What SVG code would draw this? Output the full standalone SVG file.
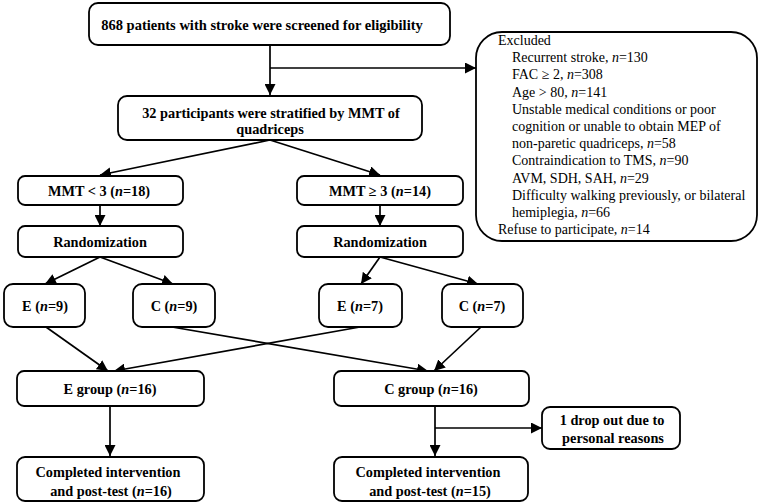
<svg xmlns="http://www.w3.org/2000/svg" width="763" height="504" viewBox="0 0 763 504">
<style>
.box{fill:#fff;stroke:#000;stroke-width:1.8}
.ln{fill:none;stroke:#000;stroke-width:1.7}
.arr{marker-end:url(#ah)}
.b{font-family:"Liberation Serif","Times New Roman",serif;font-weight:bold;font-size:14.3px;fill:#000;text-anchor:middle}
.r{font-family:"Liberation Serif","Times New Roman",serif;font-size:14px;fill:#000}
.i{font-style:italic}
</style>
<defs>
<marker id="ah" markerUnits="userSpaceOnUse" markerWidth="11" markerHeight="11" refX="11" refY="5.5" orient="auto" viewBox="0 0 11 11">
<path d="M0,0 L11,5.5 L0,11 Z" fill="#000"/>
</marker>
</defs>
<rect width="763" height="504" fill="#fff"/>
<g id="connectors">
<path class="ln arr" d="M270,45 V95"/>
<path class="ln arr" d="M270,68 H476"/>
<path class="ln arr" d="M270,140 L100,175"/>
<path class="ln arr" d="M270,140 L380,175"/>
<path class="ln arr" d="M100,205 V226"/>
<path class="ln arr" d="M380,205 V226"/>
<path class="ln arr" d="M100,257 L45,284"/>
<path class="ln arr" d="M100,257 L173,284"/>
<path class="ln arr" d="M380,257 L361,284"/>
<path class="ln arr" d="M380,257 L478,284"/>
<path class="ln arr" d="M46,327 L108,371"/>
<path class="ln arr" d="M172,327 L428,371"/>
<path class="ln arr" d="M360,327 L114,371"/>
<path class="ln arr" d="M481,327 L434,371"/>
<path class="ln arr" d="M110,406 V456"/>
<path class="ln arr" d="M435,406 V456"/>
<path class="ln arr" d="M435,428 H542"/>
</g>
<g id="screened">
<rect class="box" x="89" y="3" width="361" height="42" rx="9"/>
<text class="b" x="262" y="30" style="font-size:14.5px">868 patients with stroke were screened for eligibility</text>
</g>
<g id="excluded">
<rect class="box" x="476" y="32" width="281" height="209" rx="26"/>
<text class="r" x="498" y="45">Excluded</text>
<text class="r" x="512" y="62.2">Recurrent stroke, <tspan class="i">n</tspan>=130</text>
<text class="r" x="512" y="79.4">FAC ≥ 2, <tspan class="i">n</tspan>=308</text>
<text class="r" x="512" y="96.6">Age &gt; 80, <tspan class="i">n</tspan>=141</text>
<text class="r" x="512" y="113.8">Unstable medical conditions or poor</text>
<text class="r" x="512" y="131">cognition or unable to obtain MEP of</text>
<text class="r" x="512" y="148.2">non-paretic quadriceps, <tspan class="i">n</tspan>=58</text>
<text class="r" x="512" y="165.4">Contraindication to TMS, <tspan class="i">n</tspan>=90</text>
<text class="r" x="512" y="182.6">AVM, SDH, SAH, <tspan class="i">n</tspan>=29</text>
<text class="r" x="512" y="199.8">Difficulty walking previously, or bilateral</text>
<text class="r" x="512" y="217">hemiplegia, <tspan class="i">n</tspan>=66</text>
<text class="r" x="498" y="234.2">Refuse to participate, <tspan class="i">n</tspan>=14</text>
</g>
<g id="stratified">
<rect class="box" x="118" y="96" width="304" height="44" rx="9"/>
<text class="b" x="271" y="118">32 participants were stratified by MMT of</text>
<text class="b" x="270" y="134">quadriceps</text>
</g>
<g id="mmt-low">
<rect class="box" x="18" y="176" width="165" height="29" rx="7"/>
<text class="b" x="99" y="196">MMT &lt; 3 (<tspan class="i">n</tspan>=18)</text>
</g>
<g id="mmt-high">
<rect class="box" x="297" y="176" width="166" height="29" rx="7"/>
<text class="b" x="380" y="196">MMT ≥ 3 (<tspan class="i">n</tspan>=14)</text>
</g>
<g id="rand-left">
<rect class="box" x="18" y="226" width="165" height="31" rx="7"/>
<text class="b" x="100" y="247">Randomization</text>
</g>
<g id="rand-right">
<rect class="box" x="297" y="226" width="166" height="31" rx="7"/>
<text class="b" x="380" y="247">Randomization</text>
</g>
<g id="e9">
<rect class="box" x="4" y="284" width="81" height="43" rx="9"/>
<text class="b" x="45" y="311">E (<tspan class="i">n</tspan>=9)</text>
</g>
<g id="c9">
<rect class="box" x="133" y="284" width="82" height="43" rx="9"/>
<text class="b" x="174" y="311">C (<tspan class="i">n</tspan>=9)</text>
</g>
<g id="e7">
<rect class="box" x="319" y="284" width="83" height="43" rx="9"/>
<text class="b" x="360" y="311">E (<tspan class="i">n</tspan>=7)</text>
</g>
<g id="c7">
<rect class="box" x="442" y="284" width="81" height="43" rx="9"/>
<text class="b" x="482" y="311">C (<tspan class="i">n</tspan>=7)</text>
</g>
<g id="e-group">
<rect class="box" x="17" y="371" width="187" height="35" rx="7"/>
<text class="b" x="110" y="394">E group (<tspan class="i">n</tspan>=16)</text>
</g>
<g id="c-group">
<rect class="box" x="334" y="371" width="195" height="35" rx="7"/>
<text class="b" x="431" y="394">C group (<tspan class="i">n</tspan>=16)</text>
</g>
<g id="dropout">
<rect class="box" x="542" y="407" width="138" height="42" rx="8"/>
<text class="b" x="612" y="425">1 drop out due to</text>
<text class="b" x="613" y="443">personal reasons</text>
</g>
<g id="e-completed">
<rect class="box" x="17" y="457" width="187" height="44" rx="8"/>
<text class="b" x="108" y="477">Completed intervention</text>
<text class="b" x="111" y="496">and post-test (<tspan class="i">n</tspan>=16)</text>
</g>
<g id="c-completed">
<rect class="box" x="334" y="457" width="194" height="44" rx="8"/>
<text class="b" x="428" y="477">Completed intervention</text>
<text class="b" x="430" y="496">and post-test (<tspan class="i">n</tspan>=15)</text>
</g>
</svg>
